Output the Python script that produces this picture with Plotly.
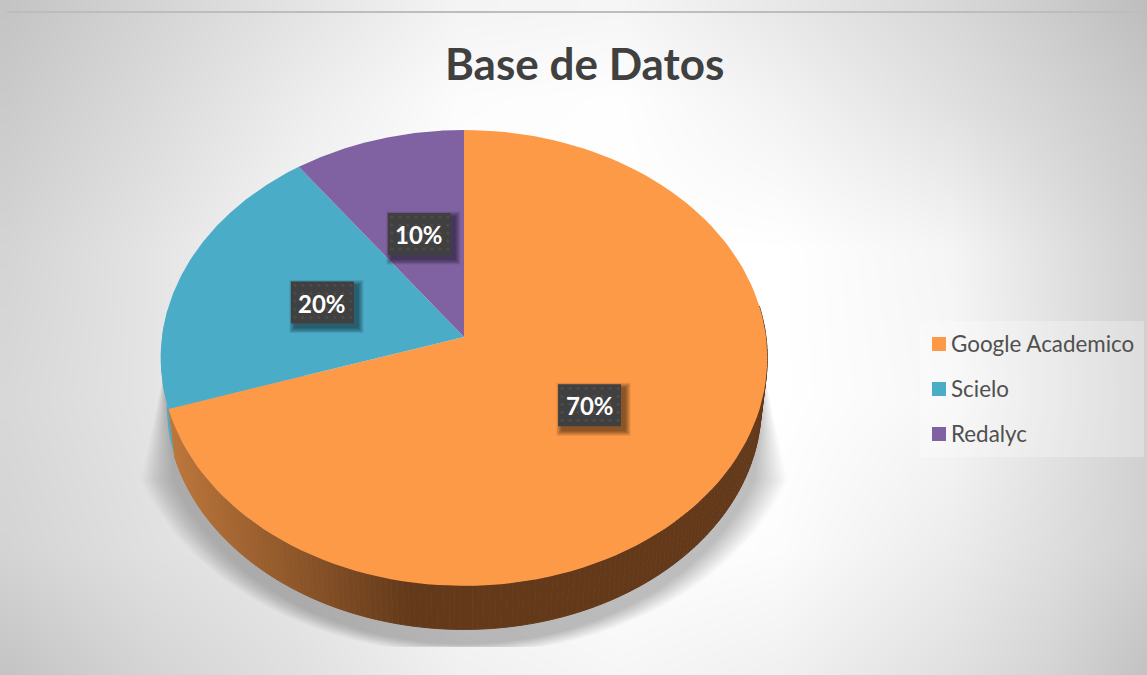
import numpy as np
import plotly.graph_objects as go

categories = ["Google Academico", "Scielo", "Redalyc"]
values = [70, 20, 10]
colors = ["#FD9A48", "#4BACC8", "#8062A2"]
title = "Base de Datos"

# backdrop lightness
bg_x = [7, 150, 300, 460, 620, 780, 950, 1050, 1147]
bg_y = [12, 100, 250, 400, 550, 675]
bg_z = [
    [196, 212, 228, 244, 246, 232, 216, 204, 190],
    [202, 218, 236, 252, 254, 242, 224, 212, 200],
    [212, 228, 246, 255, 255, 255, 245, 226, 208],
    [216, 228, 244, 255, 255, 255, 247, 228, 208],
    [212, 224, 232, 250, 255, 252, 236, 222, 208],
    [196, 212, 224, 240, 246, 240, 224, 212, 194],
]

# pie geometry in page pixels
CX, CY = 464, 337
A, B, K = 302, 226, 0.0918
A2, B2, CY2 = 296, 222, 385


def project(theta, r=1.0, a=A, b=B, cy=CY):
    u, v = r * np.sin(theta), r * np.cos(theta)
    d = 1 + K * v
    return CX + a * u / d, cy - b * v / d


def lerp_hex(c1, c2, t):
    p = [int(c1[i:i + 2], 16) for i in (1, 3, 5)]
    q = [int(c2[i:i + 2], 16) for i in (1, 3, 5)]
    return "rgb(%d,%d,%d)" % tuple(round(p[i] + (q[i] - p[i]) * t) for i in range(3))


def poly(x, y, color, name=None, line=False):
    return go.Scatter(
        x=list(x), y=list(y), mode="lines", fill="toself", fillcolor=color,
        line=dict(color=color if line else "rgba(0,0,0,0)", width=1 if line else 0),
        hoverinfo="skip", showlegend=False, name=name,
    )


fig = go.Figure()

# backdrop
fig.add_trace(go.Heatmap(
    x=bg_x, y=bg_y, z=bg_z, zmin=0, zmax=255, zsmooth="best", showscale=False,
    colorscale=[[0, "#000000"], [1, "#ffffff"]], hoverinfo="skip",
))

# soft shadow beneath the pie, cut off flat at the bottom
LAYERS = 16
SH_CY, SH_TOP, SH_FLARE, SH_CUT = 400, 376, 480, 647
for i in range(LAYERS):
    e = 1 - i / (LAYERS - 1)
    ax, by = 308 + 32 * e, 244 + 10 * e
    t0 = np.arcsin((SH_FLARE - SH_CY) / by)
    t = np.linspace(t0, np.pi - t0, 90)
    xs = CX + ax * np.cos(t)
    ys = np.minimum(SH_CY + by * np.sin(t), SH_CUT)
    top = 299 + 2 * e
    xs = np.concatenate([[CX + top], xs, [CX - top]])
    ys = np.concatenate([[SH_TOP], ys, [SH_TOP]])
    fig.add_trace(poly(xs, ys, "rgba(0,0,0,0.014)"))

# starting angles of the slices, clockwise from twelve o'clock
fracs = np.array(values, float) / sum(values)
starts = np.concatenate([[0], np.cumsum(fracs)]) * 2 * np.pi

# wall of the second slice that peeks out on the left
th = np.linspace(starts[1], starts[1] + np.radians(25), 12)
xt, yt = project(th)
xb, yb = project(th, a=A2, b=B2, cy=CY2)
fig.add_trace(poly(np.r_[xt, xb[::-1]], np.r_[yt, yb[::-1]], colors[1]))

# wall of the first slice, shaded from left to right
edges = np.linspace(starts[1], starts[0] + np.radians(82), 170)
for a0, a1 in zip(edges[:-1][::-1], edges[1:][::-1]):
    th = np.array([a0, a1])
    xt, yt = project(th)
    xb, yb = project(th, a=A2, b=B2, cy=CY2)
    mx = float(np.mean(xb))
    shade = lerp_hex("#BC763A", "#63391A", np.clip((mx - 175) / 235, 0, 1))
    fig.add_trace(poly(np.r_[xt, xb[::-1]], np.r_[yt, yb[::-1]], shade, line=True))

# top faces
for i, (cat, col) in enumerate(zip(categories, colors)):
    th = np.linspace(starts[i], starts[i + 1], 120)
    xs, ys = project(th)
    fig.add_trace(poly(np.r_[CX, xs, CX], np.r_[CY, ys, CY], col, name=cat))

annotations = []
# value labels
BW, BH = 63, 42
for i, val in enumerate(values):
    lx, ly = project((starts[i] + starts[i + 1]) / 2, r=0.5)
    lx, ly = float(lx), float(ly)
    L, R, T, Bt = lx - BW / 2, lx + BW / 2, ly - BH / 2, ly + BH / 2
    for k in range(6):
        g = 11 - k * 1.9
        fig.add_trace(poly(
            [L + 4 - g / 2, R + 4 + g / 2, R + 4 + g / 2, L + 4 - g / 2],
            [T + 4 - g / 2, T + 4 - g / 2, Bt + 4 + g / 2, Bt + 4 + g / 2],
            "rgba(0,0,0,0.09)"))
    fig.add_trace(poly([L, R, R, L], [T, T, Bt, Bt], "#404040"))
    gx = np.arange(L + 4, R - 1, 8)
    gy = np.arange(T + 4, Bt - 1, 8)
    mx, my = np.meshgrid(gx, gy)
    fig.add_trace(go.Scatter(
        x=mx.ravel(), y=my.ravel(), mode="markers",
        marker=dict(size=3, color="#4C4C4C"), hoverinfo="skip", showlegend=False,
    ))
    annotations.append(dict(
        x=lx, y=ly + 0.5, xref="x", yref="y", text=f"<b>{val}%</b>", showarrow=False,
        font=dict(family="Lato", size=24, color="#ffffff"),
    ))

# key panel
fig.add_trace(poly([920, 1144, 1144, 920], [321, 321, 457, 457], "rgba(255,255,255,0.28)"))
key_y = [344, 389, 434]
fig.add_trace(go.Scatter(
    x=[939] * 3, y=key_y, mode="markers",
    marker=dict(symbol="square", size=14, color=colors, line=dict(width=0)),
    hoverinfo="skip", showlegend=False,
))
fig.add_trace(go.Scatter(
    x=[951] * 3, y=[v + 2 for v in key_y], mode="text", text=categories, textposition="middle right",
    textfont=dict(family="Lato", size=22.4, color="#505050"),
    hoverinfo="skip", showlegend=False,
))

annotations.append(dict(
    x=584, y=63, xref="x", yref="y", text=f"<b>{title}</b>", showarrow=False,
    font=dict(family="Lato", size=44, color="#404040"),
))

shapes = [dict(type="line", x0=7, x1=1147, y0=12, y1=12, xref="x", yref="y",
               line=dict(color="#BDBDBD", width=2), layer="above")]

fig.update_layout(
    width=1147, height=675, margin=dict(l=0, r=0, t=0, b=0),
    paper_bgcolor="#ffffff", plot_bgcolor="#ffffff", showlegend=False,
    xaxis=dict(range=[0, 1147], visible=False, fixedrange=True),
    yaxis=dict(range=[675, 0], visible=False, fixedrange=True),
    annotations=annotations, shapes=shapes,
)
fig.write_html("out.html", post_script="document.body.style.margin='0';", config={"displayModeBar": False})
